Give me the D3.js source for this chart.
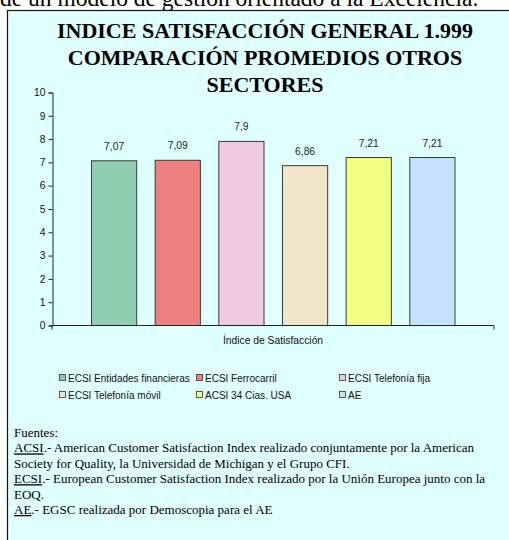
<!DOCTYPE html>
<html><head><meta charset="utf-8">
<script src="https://cdn.jsdelivr.net/npm/d3@7"></script>
<style>body{margin:0;background:#fff;overflow:hidden}svg{display:block}</style>
</head><body>
<script>
const series = ["ECSI Entidades financieras","ECSI Ferrocarril","ECSI Telefonía fija","ECSI Telefonía móvil","ACSI 34 Cias. USA","AE"];
const values = [7.07, 7.09, 7.9, 6.86, 7.21, 7.21];
const valueLabels = ["7,07","7,09","7,9","6,86","7,21","7,21"];
const colors = ["#8FCDB1","#F08080","#F0CAE2","#F2E4CA","#F2FF82","#C2E2FF"];
const yTicks = [0,1,2,3,4,5,6,7,8,9,10];
const category = "Índice de Satisfacción";
const titleLines = ["INDICE SATISFACCIÓN GENERAL 1.999","COMPARACIÓN PROMEDIOS OTROS","SECTORES"];
const topText = "de un modelo de gestión orientado a la Excelencia.";
const sources = [
  [{t:"Fuentes:"}],
  [{t:"ACSI",u:true},{t:".- American Customer Satisfaction Index realizado conjuntamente por la American"}],
  [{t:"Society for Quality, la Universidad de Michigan y el Grupo CFI."}],
  [{t:"ECSI",u:true},{t:".- European Customer Satisfaction Index realizado por la Unión Europea junto con la"}],
  [{t:"EOQ."}],
  [{t:"AE",u:true},{t:".- EGSC realizada por Demoscopia para el AE"}]
];

const W=509,H=540;
const sans="Liberation Sans, Arial, sans-serif", serif="Liberation Serif, Times New Roman, serif";
const svg=d3.select("body").append("svg").attr("width",W).attr("height",H);

// top text (partially cut by the page edge)
svg.append("text").attr("x",0).attr("y",6).attr("font-family",serif)
  .attr("font-size",23.5).attr("fill","#000").text(topText);

// box
svg.append("rect").attr("x",7.5).attr("y",10.5).attr("width",W).attr("height",H)
  .attr("fill","#E0FFFF").attr("stroke","#111").attr("stroke-width",1.2);

// title
const title=svg.append("text").attr("font-family",serif)
  .attr("font-weight","bold").attr("font-size",22).attr("text-anchor","middle").attr("fill","#000");
titleLines.forEach((l,i)=>title.append("tspan").attr("x",265).attr("y",38+i*27).text(l));

// scales
const y=d3.scaleLinear().domain([0,10]).range([325.5,92.5]);
const x=d3.scaleBand().domain(series).range([91.5,455]).paddingInner(0.29).paddingOuter(0);
const x0=52, x1=494;

// y axis
const yAxis=d3.axisLeft(y).tickValues(yTicks).tickSize(4).tickPadding(3).tickFormat(d3.format("d"));
const ga=svg.append("g").attr("transform",`translate(${x0+0.5},0)`).call(yAxis);
ga.select(".domain").attr("stroke","#222");
ga.selectAll(".tick line").attr("stroke","#222");
ga.selectAll("text").attr("font-family",sans).attr("font-size",10.3).attr("fill","#111");

// bars
svg.selectAll("rect.bar").data(series).join("rect").attr("class","bar")
  .attr("x",d=>x(d)).attr("width",x.bandwidth())
  .attr("y",(d,i)=>y(values[i])).attr("height",(d,i)=>y(0)-y(values[i]))
  .attr("fill",(d,i)=>colors[i]).attr("stroke","#3a3a3a").attr("stroke-width",1);

// value labels
svg.selectAll("text.vl").data(series).join("text").attr("class","vl")
  .attr("x",d=>x(d)+x.bandwidth()/2).attr("y",(d,i)=>y(values[i])-11)
  .attr("text-anchor","middle").attr("font-family",sans)
  .attr("font-size",10.3).attr("fill","#222").text((d,i)=>valueLabels[i]);

// x axis
const xs=d3.scaleBand().domain([category]).range([x0,x1]);
const xAxis=d3.axisBottom(xs).tickSize(0).tickPadding(11);
const gx=svg.append("g").attr("transform",`translate(0,${y(0)})`).call(xAxis);
gx.select(".domain").attr("stroke","#222").attr("d",`M${x0},4V0H${x1}V4`);
gx.selectAll("text").attr("font-family",sans).attr("font-size",10.3).attr("fill","#111");

// legend
const legX=[59,196,339], legY=[378,395];
const lg=svg.selectAll("g.leg").data(series).join("g").attr("class","leg")
  .attr("transform",(d,i)=>`translate(${legX[i%3]},${legY[Math.floor(i/3)]})`);
lg.append("rect").attr("x",0.5).attr("y",-3.5).attr("width",6).attr("height",6)
  .attr("fill",(d,i)=>colors[i]).attr("stroke","#333").attr("stroke-width",0.8);
lg.append("text").attr("x",9).attr("y",3.7).attr("font-family",sans)
  .attr("font-size",10).attr("fill","#111").text(d=>d);

// sources
const src=svg.append("g").attr("font-family",serif).attr("font-size",13).attr("fill","#000");
sources.forEach((parts,i)=>{
  const t=src.append("text").attr("x",14).attr("y",437+i*15.4);
  parts.forEach(p=>{const s=t.append("tspan").text(p.t); if(p.u) s.attr("text-decoration","underline");});
});
</script>
</body></html>
